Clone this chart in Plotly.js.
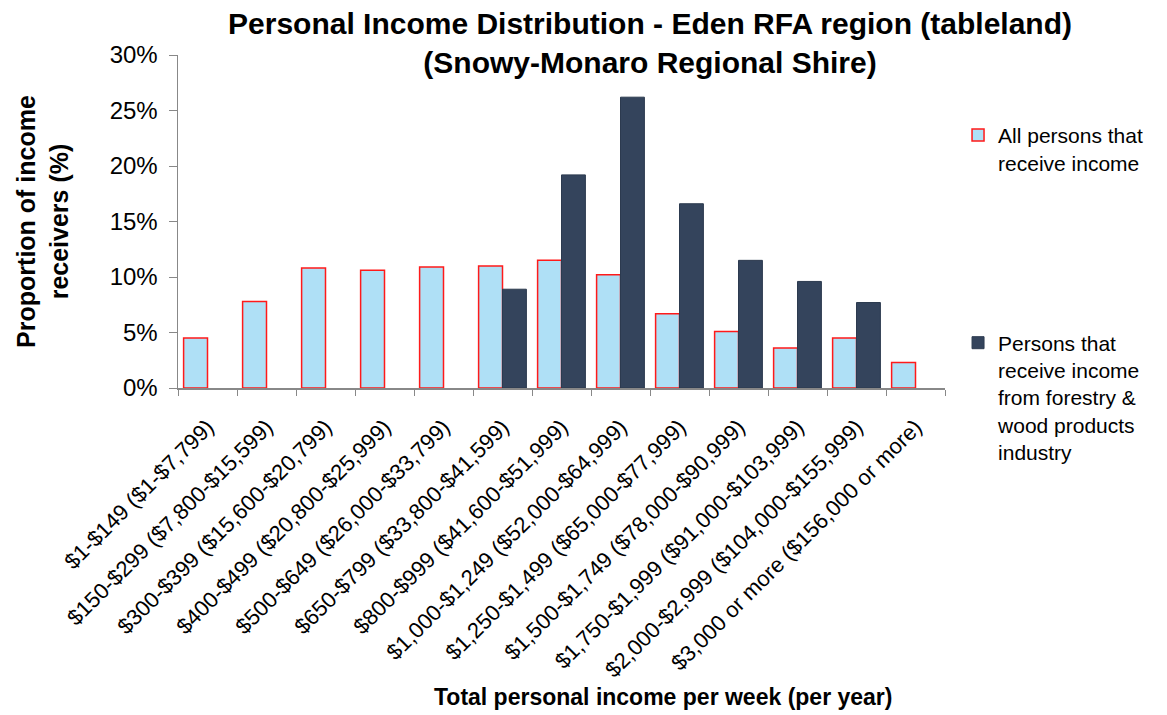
<!DOCTYPE html>
<html>
<head>
<meta charset="utf-8">
<script src="https://cdn.plot.ly/plotly-3.0.1.min.js"></script>
<style>html,body{margin:0;padding:0;background:#fff;}#chart{width:1167px;height:715px;}</style>
</head>
<body>
<div id="chart"></div>
<script>
const categories = [
  "$1-$149 ($1-$7,799)",
  "$150-$299 ($7,800-$15,599)",
  "$300-$399 ($15,600-$20,799)",
  "$400-$499 ($20,800-$25,999)",
  "$500-$649 ($26,000-$33,799)",
  "$650-$799 ($33,800-$41,599)",
  "$800-$999 ($41,600-$51,999)",
  "$1,000-$1,249 ($52,000-$64,999)",
  "$1,250-$1,499 ($65,000-$77,999)",
  "$1,500-$1,749 ($78,000-$90,999)",
  "$1,750-$1,999 ($91,000-$103,999)",
  "$2,000-$2,999 ($104,000-$155,999)",
  "$3,000 or more ($156,000 or more)"
];
const allPersons = [4.5, 7.8, 10.8, 10.6, 10.9, 11.0, 11.5, 10.2, 6.7, 5.1, 3.6, 4.5, 2.3];
const forestryPersons = [null, null, null, null, null, 8.9, 19.2, 26.2, 16.6, 11.5, 9.6, 7.7, null];
const seriesNames = [
  "All persons that<br>receive income",
  "Persons that<br>receive income<br>from forestry &<br>wood products<br>industry"
];
const yTickVals = [0, 5, 10, 15, 20, 25, 30];
const yTickText = ["0%", "5%", "10%", "15%", "20%", "25%", "30%"];
const chartTitle = "<b>Personal Income Distribution - Eden RFA region (tableland)<br>(Snowy-Monaro Regional Shire)</b>";
const xTitle = "<b>Total personal income per week (per year)</b>";
const yTitle = "<b>Proportion of income<br>receivers (%)</b>";

const font = "Liberation Sans, Arial, sans-serif";

const traces = [
  {
    type: "bar", x: categories, y: allPersons, name: seriesNames[0], legendgroup: "a",
    marker: {color: "#afe0f6", line: {color: "#ff1a1a", width: 1.5}}
  },
  {
    type: "bar", x: categories, y: forestryPersons, name: seriesNames[1], legendgroup: "b",
    marker: {color: "#34445c", line: {color: "#2c3a4f", width: 1}}
  }
];

const layout = {
  width: 1167, height: 715,
  paper_bgcolor: "#fff", plot_bgcolor: "#fff",
  font: {family: font, color: "#000"},
  margin: {l: 178, r: 222, t: 55, b: 327},
  barmode: "group", bargap: 0.19, bargroupgap: 0,
  title: {
    text: chartTitle,
    font: {size: 30, family: font, color: "#000"},
    xref: "container", yref: "container",
    x: 0.557, xanchor: "center", y: 0.952, yanchor: "middle"
  },
  xaxis: {
    type: "category",
    automargin: false,
    tickangle: -45,
    tickson: "boundaries",
    ticks: "outside", ticklen: 6, tickcolor: "#888",
    ticklabelstandoff: 16,
    showline: true, linecolor: "#888", linewidth: 1.5,
    showgrid: false,
    tickfont: {size: 22, family: font, color: "#000"}
  },
  yaxis: {
    automargin: false,
    range: [0, 30],
    tickvals: yTickVals,
    ticktext: yTickText,
    ticks: "outside", ticklen: 8, tickcolor: "#888",
    ticklabelstandoff: 6,
    showline: true, linecolor: "#888", linewidth: 1.5,
    showgrid: false, zeroline: false,
    tickfont: {size: 24, family: font, color: "#000"},
    title: {text: yTitle, font: {size: 25, family: font, color: "#000"}, standoff: 34}
  },
  annotations: [
    {
      text: xTitle, showarrow: false,
      xref: "paper", yref: "paper", x: 0.632, y: -0.928,
      xanchor: "center", yanchor: "middle",
      font: {size: 23, family: font, color: "#000"}
    }
  ],
  showlegend: true,
  legend: {
    x: 1.017, xanchor: "left", y: 0.82, yanchor: "top",
    font: {size: 21, family: font, color: "#000"},
    tracegroupgap: 150,
    itemwidth: 30,
    valign: "top",
    maxheight: 650,
    bgcolor: "rgba(0,0,0,0)"
  }
};

Plotly.newPlot("chart", traces, layout, {displayModeBar: false, staticPlot: true});
</script>
</body>
</html>
